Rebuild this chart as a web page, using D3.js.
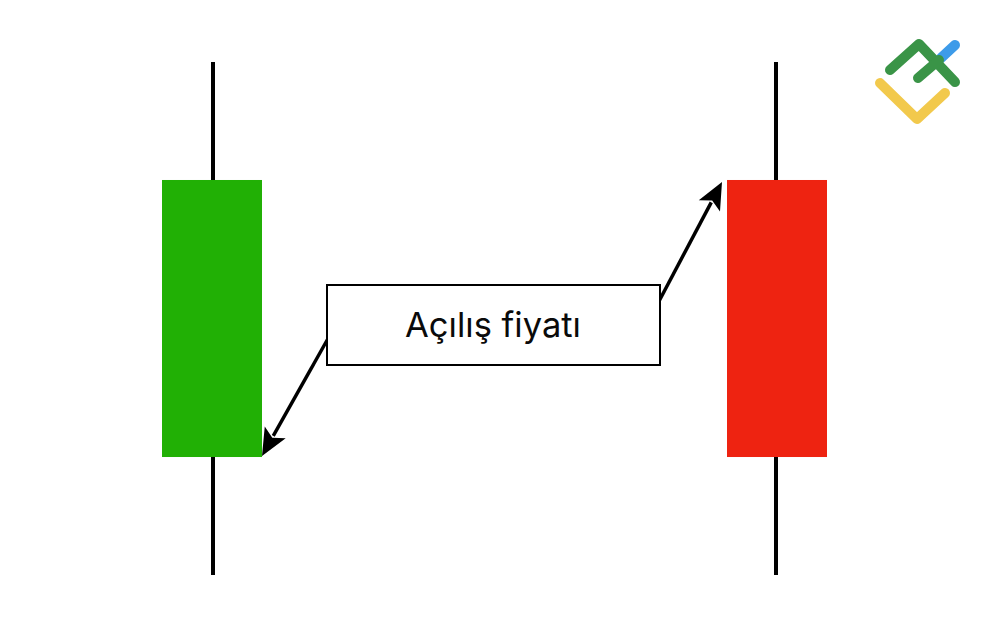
<!DOCTYPE html>
<html><head><meta charset="utf-8">
<script src="https://cdn.jsdelivr.net/npm/d3@7"></script>
<style>html,body{margin:0;padding:0;background:#fff;}svg{display:block;}</style>
</head><body>
<svg id="c" width="1000" height="632"></svg>
<script>
// Data
const candleNames = ["Yükseliş", "Düşüş"];
const opens  = [23, 77];
const closes = [77, 23];
const highs  = [100, 100];
const lows   = [0, 0];
const candleColors = ["#21b005", "#ee2311"];
const labelText = "Açılış fiyatı";

const svg = d3.select("#c");
const x = d3.scalePoint().domain(candleNames).range([213, 776]);
const y = d3.scaleLinear().domain([0, 100]).range([575, 62]);
const bodyW = 100;

const candles = candleNames.map((n, i) => ({name: n, open: opens[i], close: closes[i], high: highs[i], low: lows[i], color: candleColors[i]}));

// wicks
svg.selectAll("line.wick").data(candles).join("line")
  .attr("class", "wick")
  .attr("x1", d => x(d.name)).attr("x2", d => x(d.name))
  .attr("y1", d => y(d.high)).attr("y2", d => y(d.low))
  .attr("stroke", "#000").attr("stroke-width", 4);

// bodies
svg.selectAll("rect.body").data(candles).join("rect")
  .attr("class", "body")
  .attr("x", d => x(d.name) - bodyW / 2 + (d.name === candleNames[1] ? 1 : -1))
  .attr("width", bodyW)
  .attr("y", d => y(Math.max(d.open, d.close)))
  .attr("height", d => y(Math.min(d.open, d.close)) - y(Math.max(d.open, d.close)))
  .attr("fill", d => d.color);

// label box
const box = {x: 327, y: 285, w: 333, h: 80};

// arrows pointing to opens
const tips = [
  {x: x(candles[0].name) + bodyW / 2 - 1, y: y(candles[0].open) - 1, sx: box.x + 3, sy: box.y + 50},
  {x: x(candles[1].name) - bodyW / 2 - 4, y: y(candles[1].open) + 2, sx: box.x + box.w - 3, sy: box.y + 20}
];
tips.forEach(t => {
  const dx = t.x - t.sx, dy = t.y - t.sy;
  const L = Math.hypot(dx, dy);
  const ux = dx / L, uy = dy / L;
  const hl = 27, hw = 12;
  const bx = t.x - ux * hl, by = t.y - uy * hl;
  svg.append("line")
    .attr("x1", t.sx).attr("y1", t.sy).attr("x2", bx + ux * 4).attr("y2", by + uy * 4)
    .attr("stroke", "#000").attr("stroke-width", 3.5);
  svg.append("path")
    .attr("d", `M${t.x},${t.y}L${bx - uy * hw},${by + ux * hw}L${bx + ux * 6},${by + uy * 6}L${bx + uy * hw},${by - ux * hw}Z`)
    .attr("fill", "#000");
});

svg.append("rect")
  .attr("x", box.x).attr("y", box.y).attr("width", box.w).attr("height", box.h)
  .attr("fill", "#fff").attr("stroke", "#000").attr("stroke-width", 2);
svg.append("text")
  .attr("x", box.x + box.w / 2 - 0.5).attr("y", 337)
  .attr("text-anchor", "middle")
  .attr("font-family", "Inter, 'Noto Sans', sans-serif").attr("font-size", 34.5)
  .attr("fill", "#0a0a0a")
  .text(labelText);

// logo
const logo = svg.append("g").attr("fill", "none").attr("stroke-linecap", "round").attr("stroke-linejoin", "round").attr("stroke-width", 10);
logo.append("path").attr("d", "M880,83 L917,119 L945,93").attr("stroke", "#f2c94c");
logo.append("path").attr("d", "M941,58 L955,45").attr("stroke", "#3d9be9");
logo.append("path").attr("d", "M890,70 L919,44 L955,82").attr("stroke", "#3a9447");
logo.append("path").attr("d", "M918,78 L939,60").attr("stroke", "#3a9447");
</script>
</body></html>
